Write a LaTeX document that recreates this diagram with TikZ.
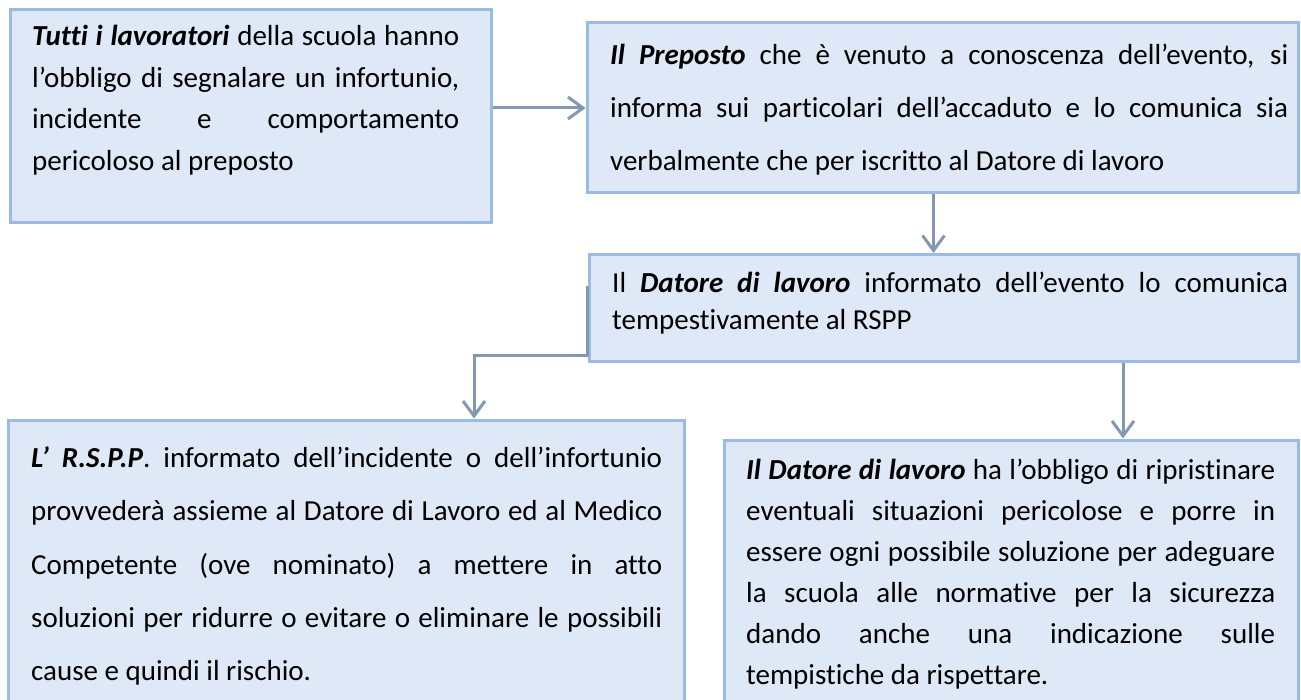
\documentclass[tikz,border=0pt]{standalone}
\usepackage{fontspec}
\setmainfont[Ligatures=NoCommon]{Carlito}
\usetikzlibrary{arrows.meta}

\definecolor{color1}{RGB}{223,232,246}
\definecolor{color2}{RGB}{155,187,229}
\definecolor{color3}{RGB}{132,151,176}
\definecolor{color4}{RGB}{0,0,0}

\tolerance=10000
\hyphenpenalty=10000

\tikzset{
	box/.style={fill=color1, draw=color2, line width=3pt, inner sep=0pt},
	txt/.style={anchor=base west, inner sep=0pt, align=justify, text=color4},
	conn/.style={color=color3, line width=3pt, -{Straight Barb[length=15pt,width=22pt]}},
}

\begin{document}
\begin{tikzpicture}
	\useasboundingbox (0pt,0pt) rectangle (1301pt,-700pt);
	\node[box, minimum width=481pt, minimum height=213pt] (n1) at (250.5pt ,-116pt) {};
	% 1 node layouts
	\node[txt, text width=427pt, font=\fontsize{29pt}{41.5pt}\selectfont] (n1l) at (32pt ,-46pt) {\textbf{\textit{Tutti i lavoratori}} della scuola hanno\linebreak l’obbligo di segnalare un infortunio,\linebreak incidente e comportamento\linebreak pericoloso al preposto};
	\node[box, minimum width=711pt, minimum height=170pt] (n2) at (942.5pt ,-108pt) {};
	% 1 node layouts
	\node[txt, text width=678pt, font=\fontsize{29pt}{53pt}\selectfont] (n2l) at (610pt ,-65pt) {\textbf{\textit{Il Preposto}} che è venuto a conoscenza dell’evento, si\linebreak informa sui particolari dell’accaduto e lo comunica sia\linebreak verbalmente che per iscritto al Datore di lavoro};
	\node[box, minimum width=709pt, minimum height=107pt] (n3) at (943.5pt ,-308pt) {};
	% 1 node layouts
	\node[txt, text width=676pt, font=\fontsize{29pt}{37.5pt}\selectfont] (n3l) at (612pt ,-292.5pt) {Il \textbf{\textit{Datore di lavoro}} informato dell’evento lo comunica\linebreak tempestivamente al RSPP};
	\node[box, minimum width=676pt, minimum height=286pt] (n4) at (346pt ,-563pt) {};
	% 1 node layouts
	\node[txt, text width=631pt, font=\fontsize{29pt}{53.5pt}\selectfont] (n4l) at (31pt ,-467pt) {\textbf{\textit{L’ R.S.P.P}}. informato dell’incidente o dell’infortunio\linebreak provvederà assieme al Datore di Lavoro ed al Medico\linebreak Competente (ove nominato) a mettere in atto\linebreak soluzioni per ridurre o evitare o eliminare le possibili\linebreak cause e quindi il rischio.};
	\node[box, minimum width=574pt, minimum height=266pt] (n5) at (1011pt ,-573pt) {};
	% 1 node layouts
	\node[txt, text width=529pt, font=\fontsize{29pt}{41pt}\selectfont] (n5l) at (746pt ,-479pt) {\textbf{\textit{Il Datore di lavoro}} ha l’obbligo di ripristinare\linebreak eventuali situazioni pericolose e porre in\linebreak essere ogni possibile soluzione per adeguare\linebreak la scuola alle normative per la sicurezza\linebreak dando anche una indicazione sulle\linebreak tempistiche da rispettare.};
	\coordinate (c4) at ([xshift=128pt]n4.north);
	\coordinate (c5) at ([xshift=112pt]n5.north);
	\draw[conn] (n1.east |- n2.west) -- (n2.west);
	\draw[conn] ([xshift=-9pt]n2.south) -- ([xshift=-9pt]n2.south |- n3.north);
	\draw[conn] ([yshift=-33pt]n3.north west) -- ([yshift=7pt]n3.south west) -| (c4);
	\draw[conn] (n3.south -| c5) -- (c5);
\end{tikzpicture}
\end{document}
